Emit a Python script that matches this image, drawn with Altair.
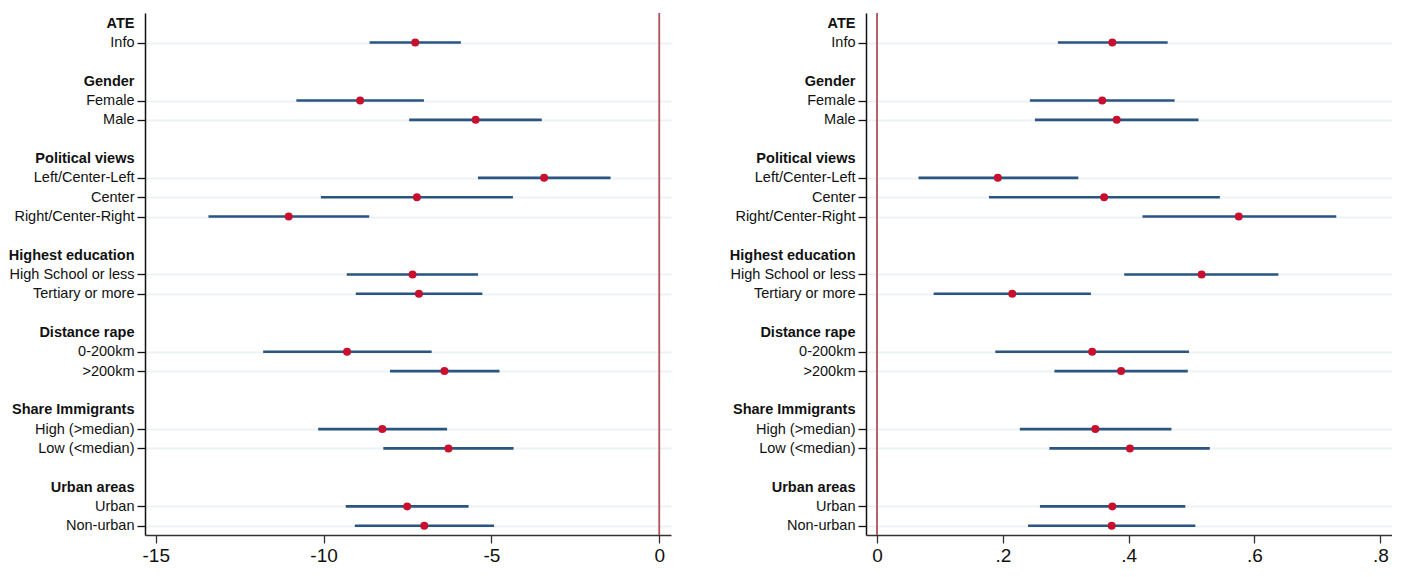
import json
import altair as alt
import pandas as pd

# ---- structure of the y axis (group headers and items) ----
groups = ["ATE", "Gender", "Political views", "Highest education",
          "Distance rape", "Share Immigrants", "Urban areas"]
items = [
    ["Info"],
    ["Female", "Male"],
    ["Left/Center-Left", "Center", "Right/Center-Right"],
    ["High School or less", "Tertiary or more"],
    ["0-200km", ">200km"],
    ["High (>median)", "Low (<median)"],
    ["Urban", "Non-urban"],
]

# ---- left panel estimates (point, lower CI, upper CI) ----
left_pt = [-7.27, -8.91, -5.47, -3.43, -7.22, -11.04, -7.35, -7.16,
           -9.30, -6.40, -8.25, -6.28, -7.51, -7.00]
left_lo = [-8.63, -10.81, -7.45, -5.40, -10.08, -13.43, -9.31, -9.04,
           -11.80, -8.02, -10.16, -8.22, -9.34, -9.07]
left_hi = [-5.91, -7.01, -3.50, -1.45, -4.36, -8.64, -5.40, -5.27,
           -6.78, -4.76, -6.32, -4.34, -5.68, -4.92]

# ---- right panel estimates ----
right_pt = [0.374, 0.358, 0.381, 0.192, 0.361, 0.575, 0.516, 0.215,
            0.342, 0.388, 0.347, 0.402, 0.374, 0.373]
right_lo = [0.2875, 0.243, 0.251, 0.066, 0.178, 0.422, 0.393, 0.090,
            0.188, 0.282, 0.227, 0.274, 0.259, 0.240]
right_hi = [0.462, 0.473, 0.511, 0.320, 0.545, 0.730, 0.638, 0.340,
            0.496, 0.494, 0.468, 0.529, 0.490, 0.506]

left_ticks = [-15, -10, -5, 0]
right_ticks = [0, 0.2, 0.4, 0.6, 0.8]

# ---- build row layout ----
row_labels = []
header_rows = []
item_rows = []
item_names = []
for gi, (g, its) in enumerate(zip(groups, items)):
    if gi > 0:
        row_labels.append("")
    header_rows.append(len(row_labels))
    row_labels.append(g)
    for it in its:
        item_rows.append(len(row_labels))
        item_names.append(it)
        row_labels.append(it)

n_rows = len(row_labels)
axis_values = sorted(header_rows + item_rows)

label_expr = json.dumps(row_labels) + "[datum.value]"
is_header = "indexof(" + json.dumps(header_rows) + ", datum.value) >= 0"

FONT = "Liberation Sans"
CI_COLOR = "#2a5580"
PT_COLOR = "#c8102e"
ZERO_COLOR = "#b0505a"
GRID_COLOR = "#edf2f5"

y_enc = alt.Y(
    "row:Q",
    scale=alt.Scale(domain=[-0.53, n_rows - 1 + 0.48], reverse=True,
                    nice=False, zero=False),
    axis=alt.Axis(
        title=None,
        values=axis_values,
        tickCount=100,
        labelExpr=label_expr,
        labelFont=FONT,
        labelFontSize=14.5,
        labelColor="#111111",
        labelFontWeight={"condition": {"test": is_header, "value": "bold"},
                         "value": "normal"},
        labelPadding=3,
        tickSize=8,
        tickColor="#111111",
        tickWidth=1.3,
        tickOpacity={"condition": {"test": is_header, "value": 0},
                     "value": 1},
        grid=True,
        gridColor=GRID_COLOR,
        gridWidth=2,
        gridOpacity={"condition": {"test": is_header, "value": 0},
                     "value": 1},
        domainColor="#111111",
        domainWidth=1.5,
        labelOverlap=False,
    ),
)


def panel(pt, lo, hi, domain, ticks, fmt_expr):
    df = pd.DataFrame({
        "row": item_rows,
        "label": item_names,
        "pt": pt,
        "lo": lo,
        "hi": hi,
    })
    zero_df = pd.DataFrame({"v": [0]})
    x_scale = alt.Scale(domain=domain, nice=False, zero=False)
    x_axis = alt.Axis(
        title=None,
        values=ticks,
        tickCount=20,
        labelExpr=fmt_expr,
        labelFont=FONT,
        labelFontSize=19,
        labelColor="#111111",
        labelPadding=3,
        tickSize=8,
        tickColor="#333333",
        tickWidth=1.3,
        domainColor="#333333",
        domainWidth=1.5,
        grid=False,
    )
    base = alt.Chart(df)
    ci = base.mark_rule(color=CI_COLOR, strokeWidth=2.6).encode(
        x=alt.X("lo:Q", scale=x_scale, axis=x_axis),
        x2="hi:Q",
        y=y_enc,
    )
    zero = alt.Chart(zero_df).mark_rule(color=ZERO_COLOR, strokeWidth=1.8).encode(
        x=alt.X("v:Q", scale=x_scale),
    )
    pts = base.mark_point(filled=True, color=PT_COLOR, size=64, opacity=1).encode(
        x=alt.X("pt:Q", scale=x_scale),
        y=alt.Y("row:Q"),
    )
    return alt.layer(zero, ci, pts).properties(width=526, height=522)


left = panel(left_pt, left_lo, left_hi, [-15.32, 0.35], left_ticks,
             "'' + datum.value")
right = panel(right_pt, right_lo, right_hi, [-0.0175, 0.8186], right_ticks,
              "datum.value == 0 ? '0' : replace(format(datum.value, '.1f'), '0.', '.')")

chart = alt.hconcat(left, right, spacing=58).properties(
    padding={"left": 0, "top": 4, "right": 0, "bottom": 0},
    background="white",
).configure_view(stroke=None)

chart.save("out.html", embed_options={"renderer": "svg", "actions": False})
